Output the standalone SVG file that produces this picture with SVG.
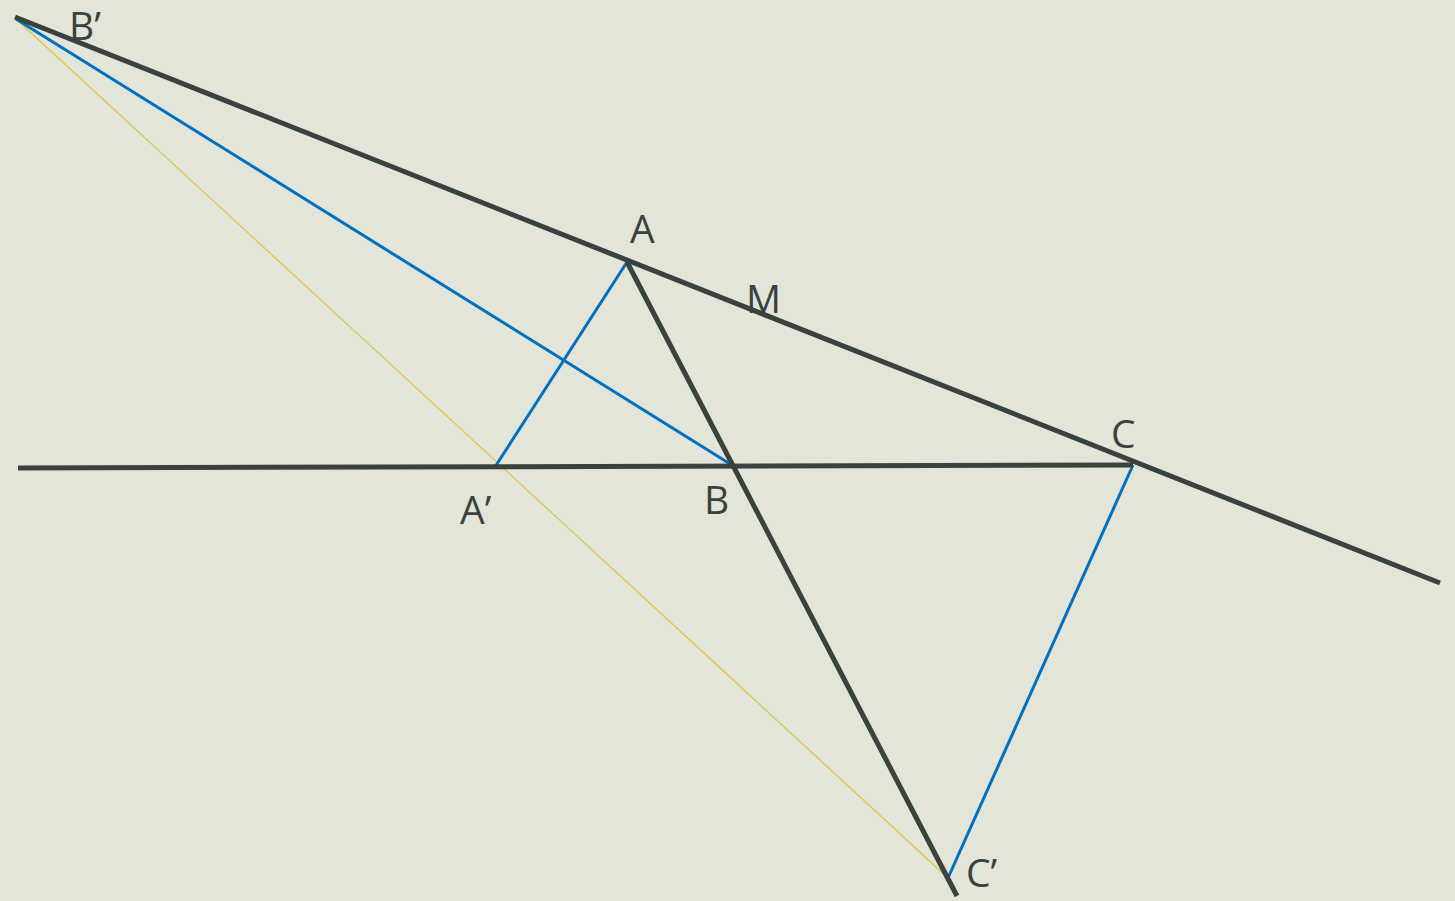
<svg xmlns="http://www.w3.org/2000/svg" width="1455" height="901" viewBox="0 0 1455 901">
<style>
.dk{stroke:#39423e;stroke-width:5;fill:none}
.bl{stroke:#0070c0;stroke-width:3;fill:none}
.yl{stroke:#e2c23a;stroke-width:1.2;fill:none}
text{font-family:"Open Sans","Noto Sans","Liberation Sans",sans-serif;font-size:39px;fill:#39423e}
</style>
<rect width="1455" height="901" fill="#e3e5d9"/>
<g id="connectors">
<line class="yl" x1="16" y1="19" x2="948" y2="878"/>
<line class="bl" x1="16" y1="19" x2="735" y2="467"/>
<line class="bl" x1="627" y1="262" x2="495" y2="467"/>
<line class="bl" x1="1133" y1="465" x2="948" y2="878"/>
<line class="dk" x1="15" y1="17" x2="1440" y2="583"/>
<line class="dk" x1="18" y1="468" x2="1133" y2="465"/>
<line class="dk" x1="627" y1="262" x2="957" y2="896"/>
</g>
<g id="B1"><text x="69" y="40">B’</text></g>
<g id="A"><text x="630" y="243">A</text></g>
<g id="M"><text x="746" y="313">M</text></g>
<g id="C"><text x="1111" y="448">C</text></g>
<g id="A1"><text x="460" y="524">A’</text></g>
<g id="B"><text x="704" y="514">B</text></g>
<g id="C1"><text x="966" y="887">C’</text></g>
</svg>
